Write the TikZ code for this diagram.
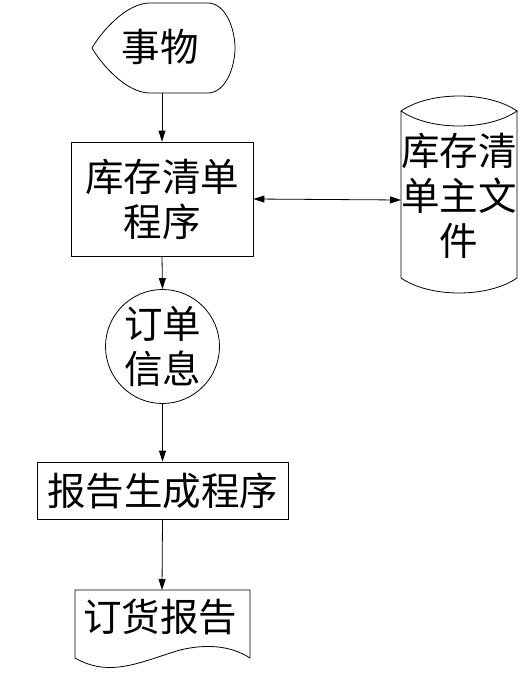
\documentclass[tikz,border=0pt]{standalone}
\usepackage{fontspec}
\newfontfamily\cjk{Noto Sans CJK SC}
\usetikzlibrary{arrows.meta}
\tikzset{
  shp/.style={draw=black, line width=0.8pt},
  box/.style={shp, rectangle, inner sep=0pt},
  txt/.style={font=\cjk\fontsize{38.5}{45}\selectfont, align=center, inner sep=0pt},
  arr/.style={draw=black, line width=0.8pt, -{Triangle[length=11pt,width=7pt]}},
  darr/.style={draw=black, line width=0.8pt, {Triangle[length=11pt,width=7pt]}-{Triangle[length=11pt,width=7pt]}}
}
\begin{document}
\begin{tikzpicture}[x=1pt, y=-1pt]
\useasboundingbox (0,0) rectangle (531,688);
% display shape
\draw[shp] (150,3) -- (208,3) .. controls (225,3) and (235,28) .. (235,48)
  .. controls (235,68) and (225,93) .. (208,93) -- (150,93)
  .. controls (125,93) and (100,62) .. (92,48)
  .. controls (100,34) and (125,3) .. (150,3) -- cycle;
\node[txt] (t0) at (160,47) {事物};
\coordinate (d0) at (162,93);
% process 1
\node[box, txt, minimum width=182pt, minimum height=114pt] (p1) at (162,199) {库存清单\\程序};
% cylinder
\draw[shp] (401,111) .. controls (430,91) and (488,91) .. (517,111)
  .. controls (488,131) and (430,131) .. (401,111) -- cycle;
\draw[shp] (401,111) -- (401,278) .. controls (430,298) and (488,298) .. (517,278) -- (517,111);
\node[txt] (t1) at (459,196) {库存清\\单主文\\件};
\coordinate (c0) at (401,200);
% circle
\node[shp, circle, txt, minimum size=114pt] (o1) at (162.5,346.5) {订单\\信息};
% process 2
\node[box, txt, minimum width=251pt, minimum height=57pt] (p2) at (162.5,490.5) {报告生成程序};
% document
\draw[shp] (75,590) -- (250,590) -- (250,658)
  .. controls (230,645) and (205,644) .. (180,650)
  .. controls (140,662) and (110,678) .. (75,658) -- cycle;
\node[txt] (t2) at (160,617) {订货报告};
\coordinate (g0) at (162,590);
% connectors
\draw[arr] (d0) -- (p1.north);
\draw[darr] (p1.east) -- (c0);
\draw[arr] (p1.south) -- (o1.north);
\draw[arr] (o1.south) -- (p2.north);
\draw[arr] (p2.south) -- (g0);
\end{tikzpicture}
\end{document}
